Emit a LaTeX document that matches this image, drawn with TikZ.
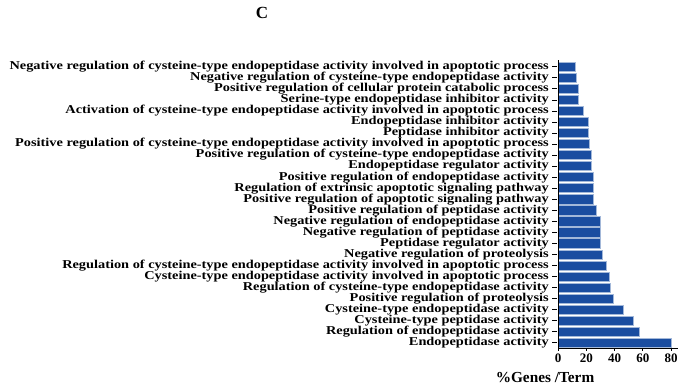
\documentclass[tikz,border=0pt]{standalone}
\usepackage{fontspec}
\setmainfont{Liberation Serif}
\definecolor{barblue}{RGB}{26,77,160}
\begin{document}
\begin{tikzpicture}[x=1pt,y=-1pt,
  lab/.style={anchor=east,inner sep=0pt,xscale=1.195,font=\bfseries\fontsize{12}{12}\selectfont},
  bar/.style={fill=barblue,draw=barblue!40,line width=0.5pt},
  tick/.style={font=\bfseries\fontsize{13}{13}\selectfont,inner sep=0pt,anchor=north}]
\useasboundingbox (0,0) rectangle (679,389);
\node[font=\bfseries\fontsize{17}{17}\selectfont,inner sep=0pt] (title) at (262,13) {C};
\foreach \v/\t [count=\i] in {
12/Negative regulation of cysteine-type endopeptidase activity involved in apoptotic process,
13/Negative regulation of cysteine-type endopeptidase activity,
14/Positive regulation of cellular protein catabolic process,
14/Serine-type endopeptidase inhibitor activity,
18.2/Activation of cysteine-type endopeptidase activity involved in apoptotic process,
21.2/Endopeptidase inhibitor activity,
21.2/Peptidase inhibitor activity,
22.2/Positive regulation of cysteine-type endopeptidase activity involved in apoptotic process,
23.2/Positive regulation of cysteine-type endopeptidase activity,
23.2/Endopeptidase regulator activity,
25/Positive regulation of endopeptidase activity,
25/Regulation of extrinsic apoptotic signaling pathway,
25/Positive regulation of apoptotic signaling pathway,
27/Positive regulation of peptidase activity,
30/Negative regulation of endopeptidase activity,
30/Negative regulation of peptidase activity,
30/Peptidase regulator activity,
31/Negative regulation of proteolysis,
34/Regulation of cysteine-type endopeptidase activity involved in apoptotic process,
36/Cysteine-type endopeptidase activity involved in apoptotic process,
37/Regulation of cysteine-type endopeptidase activity,
39/Positive regulation of proteolysis,
46/Cysteine-type endopeptidase activity,
53.5/Cysteine-type peptidase activity,
57.5/Regulation of endopeptidase activity,
80/Endopeptidase activity}{
  \pgfmathsetmacro{\yy}{66.7+(\i-1)*11.04}
  \node[lab] (l\i) at (549,\yy) {\t};
  \draw[line width=0.6pt] (552,\yy) -- (557,\yy);
  \path[bar] (558.5,\yy-4.6) rectangle ({558+\v*1.4125},\yy+4.6) node[midway] (b\i) {};
}
\coordinate (o) at (558,348);
\draw[line width=0.8pt] (558,60) -- (o) -- (678,348);
\foreach \v in {0,20,40,60,80}{
  \draw[line width=0.6pt] ({558+\v*1.4125},348) -- ({558+\v*1.4125},351);
  \node[tick] (t\v) at ({558+\v*1.4125},354) {\v};
}
\node[font=\bfseries\fontsize{15.3}{15}\selectfont,inner sep=0pt] (xl) at (545,378) {\%Genes /Term};
\end{tikzpicture}
\end{document}
